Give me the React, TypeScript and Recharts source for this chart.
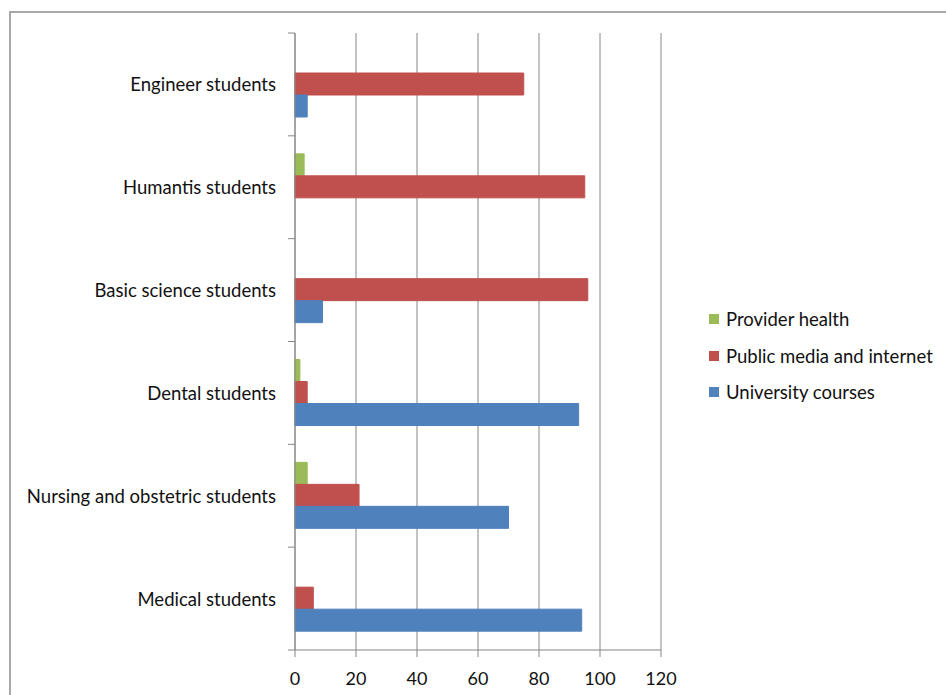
import { Bar, BarChart, CartesianGrid, XAxis, YAxis } from 'recharts';

const categories = [
  'Engineer students',
  'Humantis students',
  'Basic science students',
  'Dental students',
  'Nursing and obstetric students',
  'Medical students',
];
const providerHealth = [0, 3, 0, 1.6, 4, 0];
const publicMedia = [75, 95, 96, 4, 21, 6];
const universityCourses = [4, 0, 9, 93, 70, 94];
const xTicks = [0, 20, 40, 60, 80, 100, 120];

const series = [
  { key: 'provider', name: 'Provider health', color: '#9BBB59' },
  { key: 'media', name: 'Public media and internet', color: '#C0504D' },
  { key: 'university', name: 'University courses', color: '#4F81BD' },
];

const data = categories.map((name, i) => ({
  name,
  provider: providerHealth[i],
  media: publicMedia[i],
  university: universityCourses[i],
}));

const FONT = 'Lato, "Open Sans", sans-serif';
const AXIS = '#868686';
const TOP = 33;
const BOTTOM = 45;
const HEIGHT = 695;
const BAND = (HEIGHT - TOP - BOTTOM) / categories.length;

function CategoryTick(props: any) {
  const { x, y, payload, index } = props;
  return (
    <g>
      <text
        x={x}
        y={y}
        textAnchor="end"
        dominantBaseline="central"
        fill="#111"
        fontSize={18.5}
        fontFamily={FONT}
      >
        {payload.value}
      </text>
      <line x1={x + 12} x2={x + 19} y1={y - BAND / 2} y2={y - BAND / 2} stroke={AXIS} />
      {index === categories.length - 1 && (
        <line x1={x + 12} x2={x + 19} y1={y + BAND / 2} y2={y + BAND / 2} stroke={AXIS} />
      )}
    </g>
  );
}

function LegendBox() {
  return (
    <div
      style={{
        position: 'absolute',
        left: 709,
        top: 301,
        fontFamily: FONT,
        fontSize: 18.5,
        color: '#111',
      }}
    >
      {series.map((s) => (
        <div
          key={s.key}
          style={{ display: 'flex', alignItems: 'center', height: 36.5, whiteSpace: 'nowrap' }}
        >
          <span
            style={{
              width: 10,
              height: 10,
              background: s.color,
              marginRight: 7,
              display: 'inline-block',
            }}
          />
          {s.name}
        </div>
      ))}
    </div>
  );
}

export default function App() {
  return (
    <div
      style={{
        position: 'absolute',
        left: 0,
        top: 0,
        width: 946,
        height: 695,
        overflow: 'hidden',
        background: '#fff',
      }}
    >
      <div
        style={{
          position: 'absolute',
          left: 9,
          top: 11,
          width: 1000,
          height: 800,
          border: '2px solid #a8a8a8',
        }}
      />
      <BarChart
        width={946}
        height={HEIGHT}
        data={data}
        layout="vertical"
        margin={{ top: TOP, right: 285, bottom: 0, left: 0 }}
        barSize={22}
        barGap={0}
        style={{ position: 'absolute', left: 0, top: 0 }}
      >
        <CartesianGrid horizontal={false} stroke={AXIS} />
        <XAxis
          type="number"
          domain={[0, 120]}
          ticks={xTicks}
          height={BOTTOM}
          stroke={AXIS}
          tickSize={7}
          tickMargin={15}
          tick={{ fill: '#111', fontSize: 18, fontFamily: FONT }}
        />
        <YAxis
          type="category"
          dataKey="name"
          width={295}
          stroke={AXIS}
          tickLine={false}
          tickSize={0}
          tickMargin={19}
          tick={<CategoryTick />}
          interval={0}
        />
        {series.map((s) => (
          <Bar
            key={s.key}
            dataKey={s.key}
            name={s.name}
            fill={s.color}
            stroke={s.color}
            isAnimationActive={false}
          />
        ))}
      </BarChart>
      <LegendBox />
    </div>
  );
}
